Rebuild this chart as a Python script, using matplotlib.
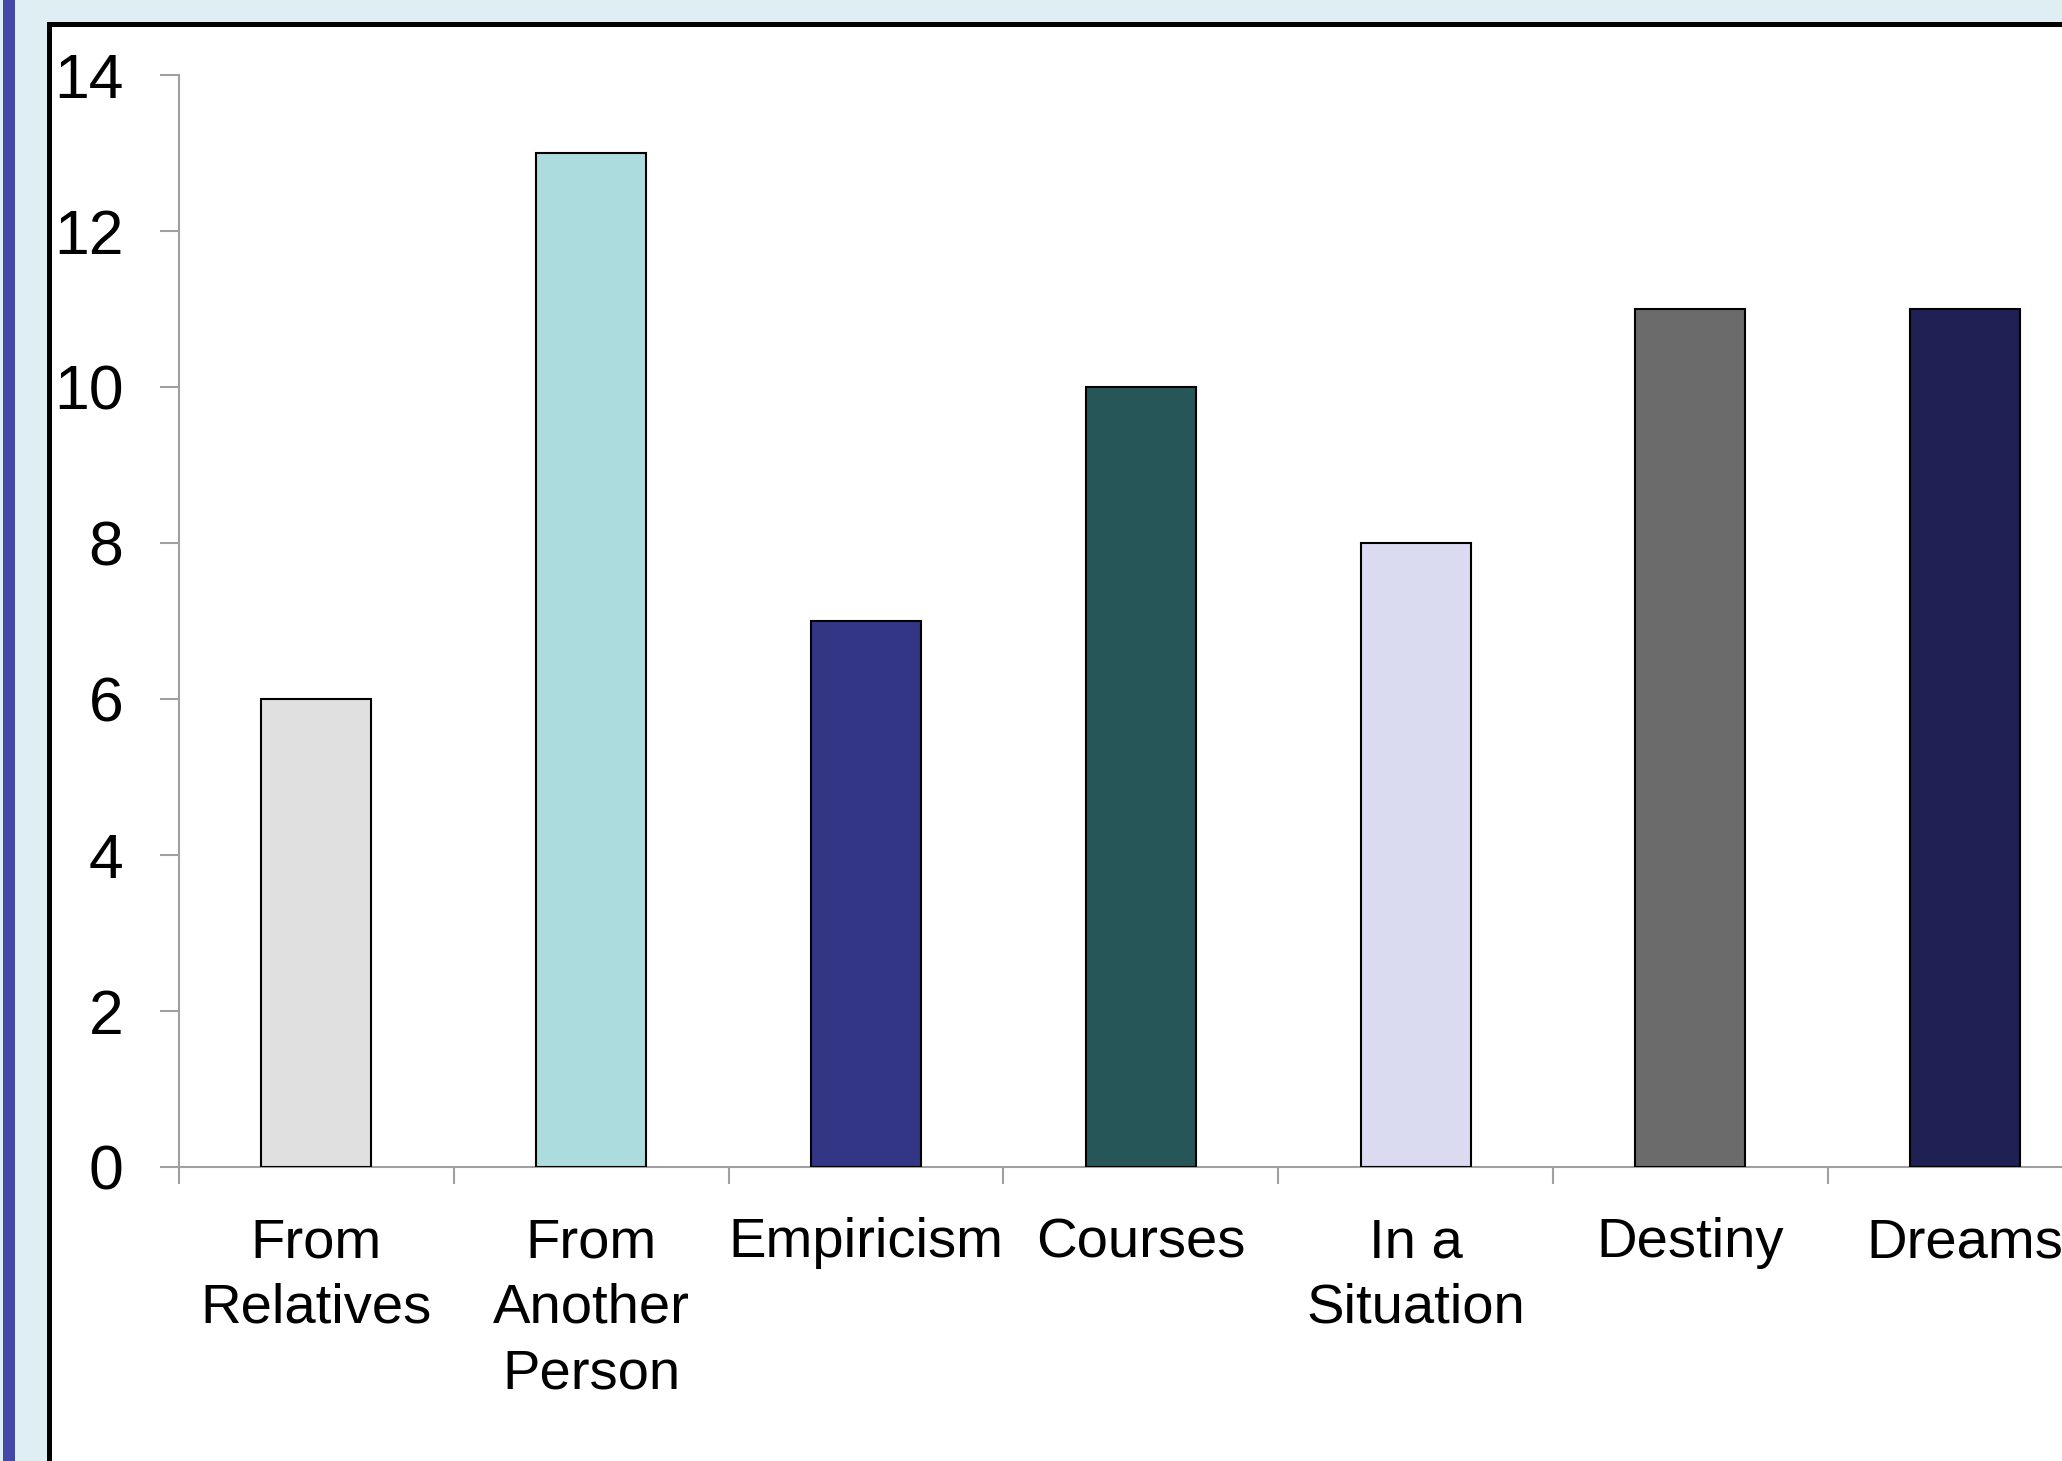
import matplotlib
matplotlib.use("Agg")
import matplotlib.pyplot as plt
from matplotlib.patches import Rectangle
import numpy as np

# data
categories = ["From\nRelatives", "From\nAnother\nPerson", "Empiricism", "Courses",
              "In a\nSituation", "Destiny", "Dreams"]
values = [6, 13, 7, 10, 8, 11, 11]
bar_colors = ["#E0E0E0", "#ADDCDF", "#333684", "#275659", "#DADAF0", "#6B6B6B", "#1F2054"]
y_ticks = [0, 2, 4, 6, 8, 10, 12, 14]

W, H = 2062, 1461
plt.rcParams["font.family"] = ["Liberation Sans", "DejaVu Sans"]

fig = plt.figure(figsize=(W / 100, H / 100), dpi=100)
fig.patch.set_facecolor("#DFEEF2")

# slide decoration: blue strip on the left, white box with black border
fig.add_artist(Rectangle((3 / W, 0), 12 / W, 1, transform=fig.transFigure,
                         facecolor="#4347A8", edgecolor="none", zorder=0))
fig.add_artist(Rectangle((48.5 / W, -0.05), 1.2, 1 - 23.5 / H + 0.05,
                         transform=fig.transFigure, facecolor="white",
                         edgecolor="black", linewidth=3.6, zorder=0))

# axes: one category is ~275 px wide, the last one runs past the right edge
x0, x1 = 179, 179 + 7 * 274.8
y0, y1 = 1167, 75
ax = fig.add_axes([x0 / W, (H - y0) / H, (x1 - x0) / W, (y0 - y1) / H])
ax.set_facecolor("none")

x = np.arange(len(categories)) + 0.5
ax.bar(x, values, width=0.4, color=bar_colors, edgecolor="black", linewidth=1.5, zorder=3)

ax.set_xlim(0, len(categories))
ax.set_ylim(0, 14)

for side in ["top", "right"]:
    ax.spines[side].set_visible(False)
for side in ["left", "bottom"]:
    ax.spines[side].set_color("#A0A0A0")
    ax.spines[side].set_linewidth(1.5)

ax.set_yticks(y_ticks)
ax.set_yticklabels([str(v) for v in y_ticks])
ax.tick_params(axis="y", length=14, width=1.5, color="#A0A0A0", pad=26, labelsize=45)

ax.set_xticks(x)
ax.set_xticklabels(categories, fontsize=40.5, linespacing=1.34, va="top")
ax.set_xticks(np.arange(len(categories) + 1), minor=True)
ax.tick_params(axis="x", which="major", length=0, pad=36)
ax.tick_params(axis="x", which="minor", length=12, width=1.5, color="#A0A0A0")

fig.savefig("out.png", dpi=100, facecolor=fig.get_facecolor())
